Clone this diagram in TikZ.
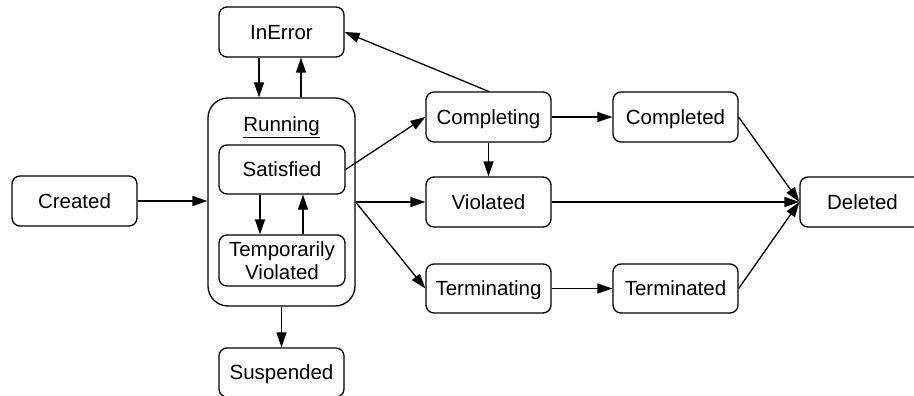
\documentclass[tikz,border=0pt]{standalone}
\usepackage{fontspec}
\setmainfont{Liberation Sans}
\usetikzlibrary{arrows.meta}
\begin{document}
\begin{tikzpicture}[x=1pt,y=-1pt,
  state/.style={draw, line width=1.3pt, rounded corners=8pt, minimum width=125pt, minimum height=50pt, inner sep=0pt, align=center,
    text height=14.5pt, text depth=0pt, font=\fontsize{20.5}{23.5}\selectfont},
  arr/.style={line width=1.3pt, -{Triangle[length=15pt,width=10pt]}}]
\useasboundingbox (0,0) rectangle (914,396);
\node[state, minimum width=147pt, minimum height=208pt, rounded corners=20pt] (run) at (281.5,202) {};
\node[font=\fontsize{20.5}{23.5}\selectfont, inner sep=0pt, text height=14.5pt, text depth=0pt] (runlbl) at (281.5,124) {\underline{Running}};
\node[state, minimum width=126pt, minimum height=49pt] (sat) at (282,169.5) {Satisfied};
\node[state, minimum width=126pt, minimum height=51pt, text height={}, text depth={}] (tv) at (282,260.5) {Temporarily\\Violated};
\node[state] (inerr) at (281.5,32) {InError};
\node[state, minimum height=49pt] (susp) at (281.5,372.5) {Suspended};
\node[state] (created) at (74.5,201) {Created};
\node[state] (cing) at (488.5,117) {Completing};
\node[state] (viol) at (488.5,202) {Violated};
\node[state, minimum height=49pt] (ting) at (488.5,288.5) {Terminating};
\node[state] (cted) at (675.5,117) {Completed};
\node[state, minimum height=49pt] (tted) at (675.5,288.5) {Terminated};
\node[state] (del) at (862.5,202) {Deleted};

\draw[arr] ([xshift=-22.5pt]inerr.south) -- ([xshift=-22.5pt]inerr.south |- run.north);
\draw[arr] ([xshift=19.5pt]inerr.south |- run.north) -- ([xshift=19.5pt]inerr.south);
\draw[arr] ([xshift=-22pt]sat.south) -- ([xshift=-22pt]sat.south |- tv.north);
\draw[arr] ([xshift=21pt]sat.south |- tv.north) -- ([xshift=21pt]sat.south);
\draw[arr] (run.south) -- (susp.north);
\draw[arr] (created.east) -- (created.east -| run.west);
\draw[arr] (sat.east) -- (cing.west);
\draw[arr] (run.east) -- (viol.west);
\draw[arr] (run.east) -- (ting.west);
\draw[arr] (cing.south) -- (viol.north);
\draw[arr] (cing.east) -- (cted.west);
\draw[arr] (cing.north) -- (inerr.east);
\draw[arr] (viol.east) -- (del.west);
\draw[arr] (cted.east) -- (del.west);
\draw[arr] (tted.east) -- (del.west);
\draw[arr] (ting.east) -- (tted.west);
\end{tikzpicture}
\end{document}
